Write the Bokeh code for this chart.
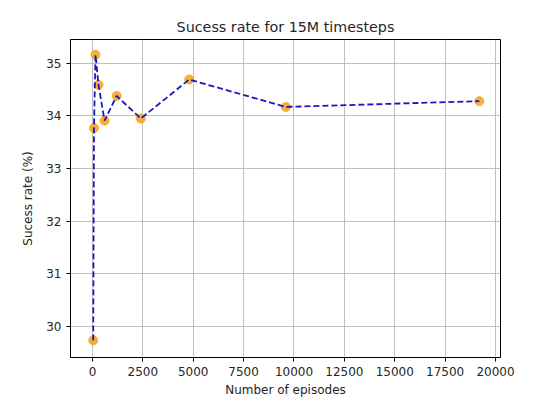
from bokeh.plotting import figure
from bokeh.models import Range1d, FixedTicker
from bokeh.embed import file_html
from bokeh.resources import INLINE

episodes = [37.5, 75, 150, 300, 600, 1200, 2400, 4800, 9600, 19200]
success = [29.74, 33.77, 35.16, 34.59, 33.91, 34.38, 33.95, 34.69, 34.17, 34.28]
x_ticks = [0, 2500, 5000, 7500, 10000, 12500, 15000, 17500, 20000]
y_ticks = [30, 31, 32, 33, 34, 35]

FONT = "DejaVu Sans"

p = figure(width=523, height=399, output_backend="svg", toolbar_location=None,
           x_range=Range1d(-1090, 20250), y_range=Range1d(29.415, 35.45),
           min_border_left=70, min_border_right=23, min_border_top=39, min_border_bottom=41,
           title="Sucess rate for 15M timesteps")
p.title.text_font = FONT
p.title.text_font_size = "14.3px"
p.title.text_font_style = "normal"
p.title.align = "center"
p.title.text_color = "#262626"

p.outline_line_color = "black"
p.outline_line_width = 1
p.background_fill_color = "white"
p.border_fill_color = "white"

for ax in (p.xaxis[0], p.yaxis[0]):
    ax.axis_line_color = "black"
    ax.major_tick_line_color = "black"
    ax.major_tick_out = 4
    ax.major_tick_in = 0
    ax.minor_tick_line_color = None
    ax.major_label_text_font = FONT
    ax.major_label_text_font_size = "12px"
    ax.major_label_text_color = "#262626"
    ax.axis_label_text_font = FONT
    ax.axis_label_text_font_size = "12px"
    ax.axis_label_text_font_style = "normal"
    ax.axis_label_text_color = "#262626"

p.xaxis.ticker = FixedTicker(ticks=x_ticks)
p.yaxis.ticker = FixedTicker(ticks=y_ticks)
p.xaxis.axis_label = "Number of episodes"
p.yaxis.axis_label = "Sucess rate (%)"
p.xaxis.axis_label_standoff = 4
p.yaxis.axis_label_standoff = 8

p.grid.grid_line_color = "#b0b0b0"
p.grid.grid_line_width = 0.8

p.scatter(episodes, success, size=9, fill_color="#f5a623", line_color="#f5a623", alpha=0.9)
p.line(episodes, success, line_color="#1818c0", line_dash="6 3", line_width=1.8)

open("out.html", "w").write(file_html(p, INLINE))
